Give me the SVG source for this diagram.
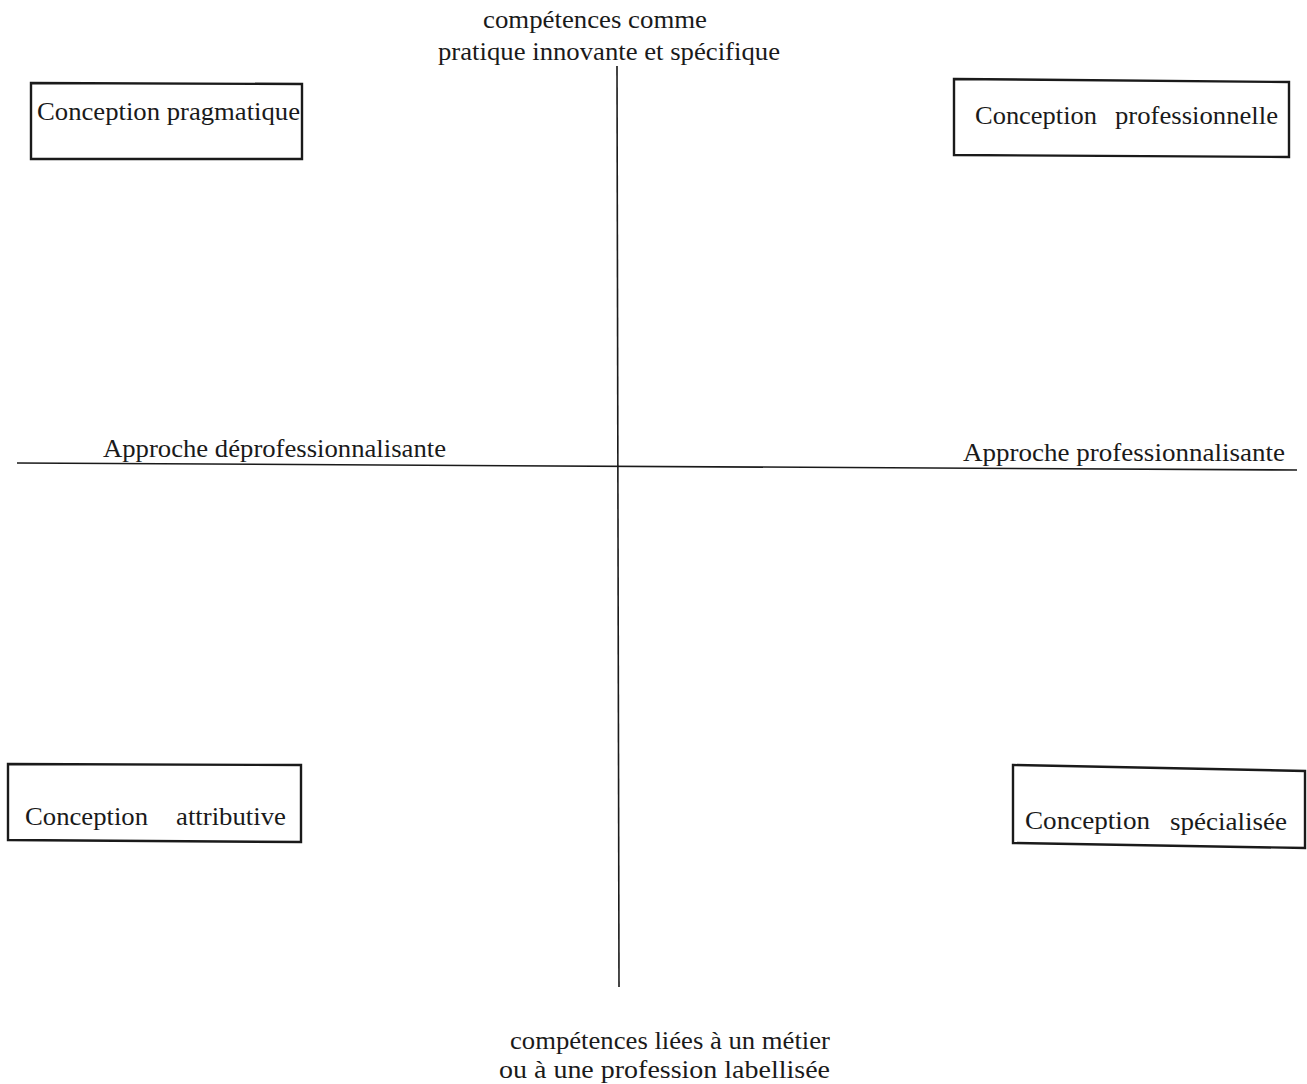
<svg xmlns="http://www.w3.org/2000/svg" width="1307" height="1084" viewBox="0 0 1307 1084">
<style>
.box{fill:none;stroke:#1a1a1a;stroke-width:2.4}
.axis{fill:none;stroke:#1a1a1a;stroke-width:1.6}
text{font-family:"Liberation Serif","Times New Roman",serif;fill:#1a1a1a;font-size:26px}
</style>
<rect width="1307" height="1084" fill="#ffffff"/>
<g id="connectors">
<path class="axis" d="M617 66 L619 987"/>
<path class="axis" d="M17 463 L1297 470"/>
</g>
<g id="axis-top">
<text x="483" y="28" textLength="224" lengthAdjust="spacingAndGlyphs">compétences comme</text>
<text x="438" y="60" textLength="342" lengthAdjust="spacingAndGlyphs">pratique innovante et spécifique</text>
</g>
<g id="axis-bottom">
<text x="510" y="1049" textLength="320" lengthAdjust="spacingAndGlyphs">compétences liées à un métier</text>
<text x="499" y="1078" textLength="331" lengthAdjust="spacingAndGlyphs">ou à une profession labellisée</text>
</g>
<g id="axis-left">
<text x="103" y="457" textLength="343" lengthAdjust="spacingAndGlyphs">Approche déprofessionnalisante</text>
</g>
<g id="axis-right">
<text x="963" y="461" textLength="322" lengthAdjust="spacingAndGlyphs">Approche professionnalisante</text>
</g>
<g id="node-pragmatique">
<path class="box" d="M31 83 L302 84 L302 159 L31 159 Z"/>
<text x="37" y="120" textLength="263" lengthAdjust="spacingAndGlyphs">Conception pragmatique</text>
</g>
<g id="node-professionnelle">
<path class="box" d="M954 79 L1289 82 L1289 157 L954 155 Z"/>
<text x="975" y="124" textLength="122" lengthAdjust="spacingAndGlyphs">Conception</text>
<text x="1115" y="124" textLength="163" lengthAdjust="spacingAndGlyphs">professionnelle</text>
</g>
<g id="node-attributive">
<path class="box" d="M8 764 L301 765 L301 842 L8 840 Z"/>
<text x="25" y="825" textLength="123" lengthAdjust="spacingAndGlyphs">Conception</text>
<text x="176" y="825" textLength="110" lengthAdjust="spacingAndGlyphs">attributive</text>
</g>
<g id="node-specialisee">
<path class="box" d="M1013 765 L1305 771 L1305 848 L1013 843 Z"/>
<text x="1025" y="829" textLength="125" lengthAdjust="spacingAndGlyphs">Conception</text>
<text x="1170" y="830" textLength="117" lengthAdjust="spacingAndGlyphs">spécialisée</text>
</g>
</svg>
